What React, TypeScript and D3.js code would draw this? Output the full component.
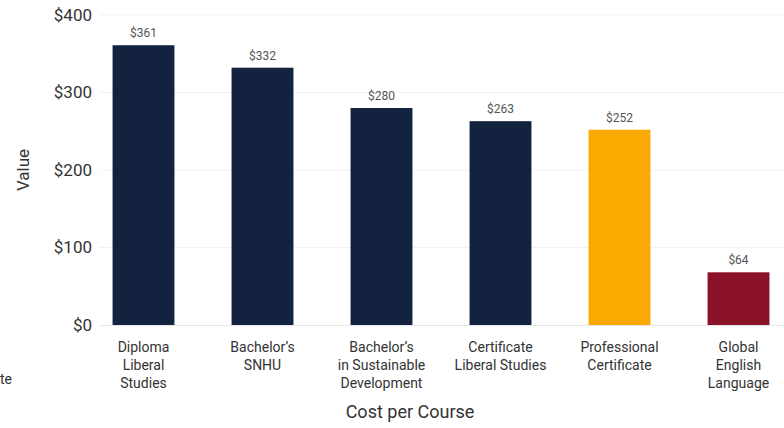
import React from "react";
import * as d3 from "d3";

const categories = [
  ["Diploma", "Liberal", "Studies"],
  ["Bachelor\u2019s", "SNHU"],
  ["Bachelor\u2019s", "in Sustainable", "Development"],
  ["Certificate", "Liberal Studies"],
  ["Professional", "Certificate"],
  ["Global", "English", "Language"],
];
const values = [361, 332, 280, 263, 252, 68];
const valueLabels = ["$361", "$332", "$280", "$263", "$252", "$64"];
const barColors = ["#12223f", "#12223f", "#12223f", "#12223f", "#f9a900", "#8a1128"];
const yTicks = [0, 100, 200, 300, 400];

export default function App() {
  const W = 784, H = 428;
  const x = d3.scaleBand<number>().domain(d3.range(values.length)).range([84, 798]).paddingInner(0.48).paddingOuter(0.24);
  const y = d3.scaleLinear().domain([0, 400]).range([325, 15]);
  const font = "Roboto, 'Noto Sans', sans-serif";
  return (
    <svg width={W} height={H} style={{ position: "absolute", left: 0, top: 0, background: "#fff" }} fontFamily={font}>
      {yTicks.map((t) => (
        <g key={t}>
          {t > 0 && <line x1={100} x2={784} y1={y(t)} y2={y(t)} stroke="#f2f2f2" strokeWidth={1} />}
          <text x={92} y={y(t)} dy="0.35em" textAnchor="end" fontSize={17} fill="#333">{"$" + t}</text>
        </g>
      ))}
      {values.map((v, i) => (
        <g key={i}>
          <rect x={x(i)} y={y(v)} width={x.bandwidth()} height={y(0) - y(v)} fill={barColors[i]} />
          <text x={x(i)! + x.bandwidth() / 2} y={y(v) - 8} textAnchor="middle" fontSize={12} fill="#555">{valueLabels[i]}</text>
          {categories[i].map((line, j) => (
            <text key={j} x={x(i)! + x.bandwidth() / 2} y={352 + j * 18} textAnchor="middle" fontSize={14} fill="#333">{line}</text>
          ))}
        </g>
      ))}
      <line x1={100} x2={784} y1={y(0) + 0.5} y2={y(0) + 0.5} stroke="#e6e6e6" strokeWidth={1} />
      <text transform={`translate(29,${y(200)}) rotate(-90)`} textAnchor="middle" fontSize={17} fill="#333">Value</text>
      <text x={410} y={418} textAnchor="middle" fontSize={18} fill="#333">Cost per Course</text>
      <text x={0} y={384} textAnchor="start" fontSize={14} fill="#333">te</text>
    </svg>
  );
}
